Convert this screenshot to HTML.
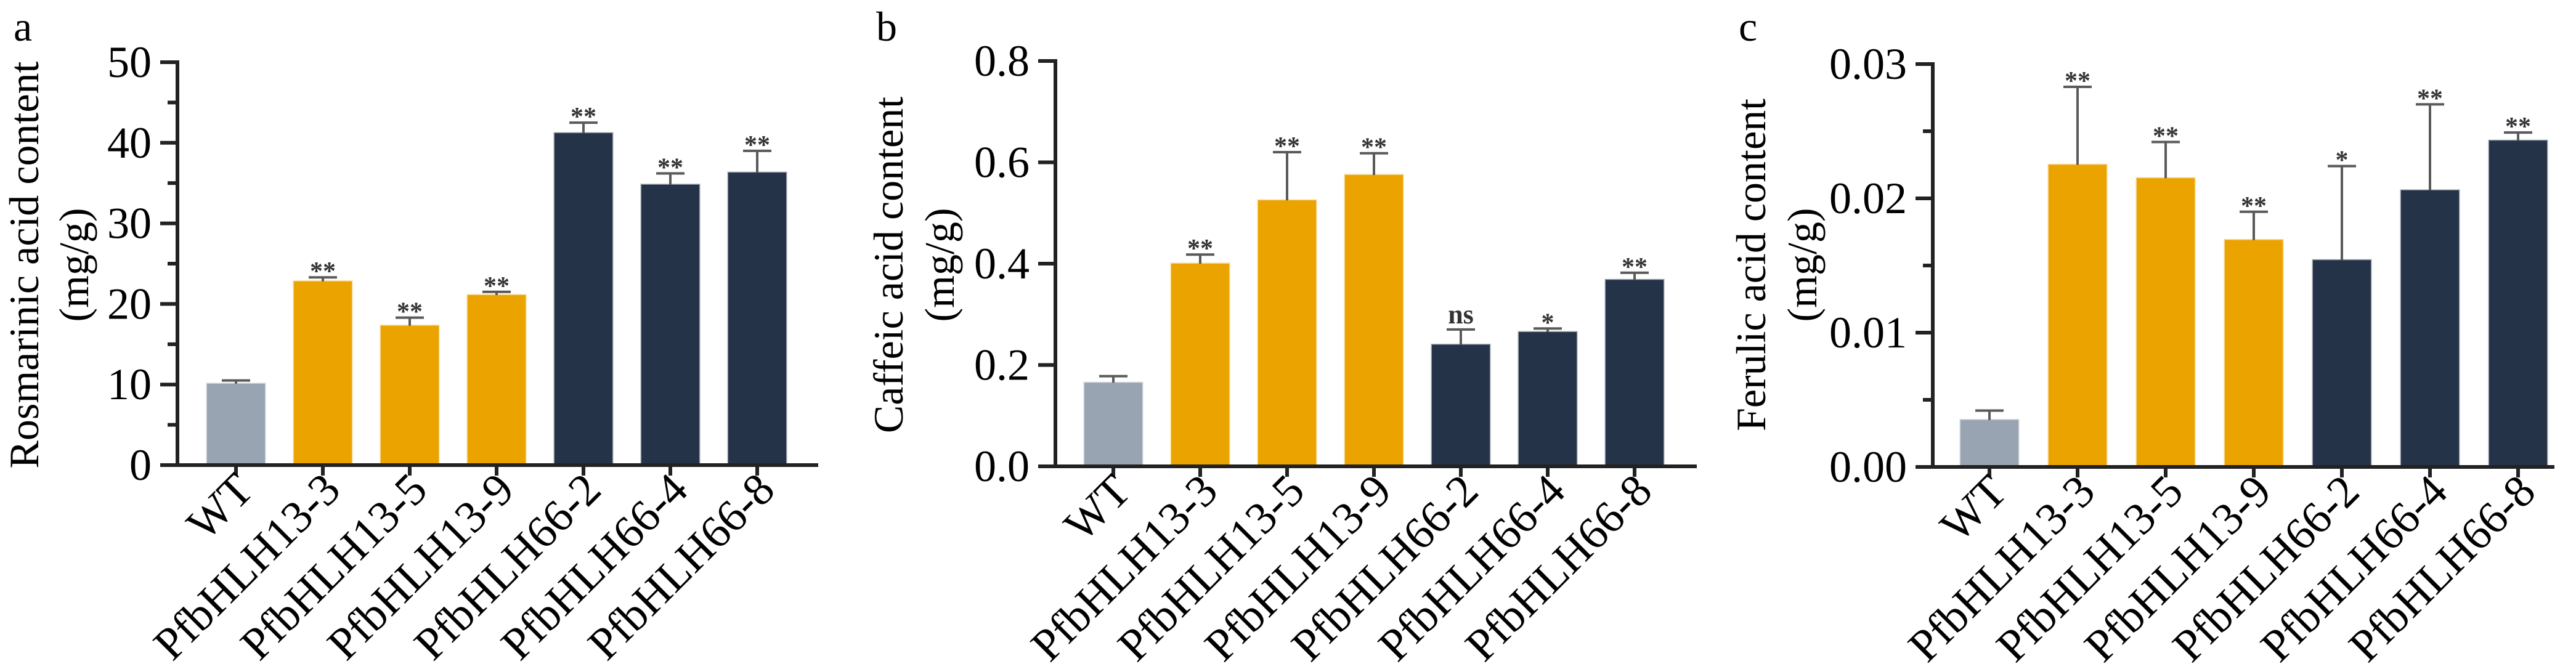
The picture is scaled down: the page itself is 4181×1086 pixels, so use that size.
<!DOCTYPE html>
<html><head><meta charset="utf-8"><style>
html,body{margin:0;padding:0;background:#fff;}
svg{display:block;font-family:"Liberation Serif","Times New Roman",serif;}
</style></head><body>
<svg id="fig" width="4181" height="1086" viewBox="0 0 4181 1086" xmlns="http://www.w3.org/2000/svg"></svg>
<script>
const categories = ["WT","PfbHLH13-3","PfbHLH13-5","PfbHLH13-9","PfbHLH66-2","PfbHLH66-4","PfbHLH66-8"];
const rosmarinicMeans = [10.1,22.8,17.3,21.1,41.2,34.8,36.3];
const rosmarinicErrTop = [10.5,23.3,18.3,21.5,42.5,36.2,39.0];
const rosmarinicSig = ["","**","**","**","**","**","**"];
const rosmarinicTicks = ["0","10","20","30","40","50"];
const caffeicMeans = [0.165,0.40,0.525,0.575,0.24,0.265,0.368];
const caffeicErrTop = [0.178,0.418,0.62,0.618,0.27,0.272,0.382];
const caffeicSig = ["","**","**","**","ns","*","**"];
const caffeicTicks = ["0.0","0.2","0.4","0.6","0.8"];
const ferulicMeans = [0.0035,0.0225,0.0215,0.0169,0.0154,0.0206,0.0243];
const ferulicErrTop = [0.0042,0.0283,0.0242,0.019,0.0224,0.027,0.0249];
const ferulicSig = ["","**","**","**","*","**","**"];
const ferulicTicks = ["0.00","0.01","0.02","0.03"];
const barColors = ["#98a4b2","#eba300","#eba300","#eba300","#243347","#243347","#243347"];

const NS="http://www.w3.org/2000/svg";
const svg=document.getElementById('fig');
function mk(tag,attrs,parent){const e=document.createElementNS(NS,tag);for(const k in attrs)e.setAttribute(k,attrs[k]);(parent||svg).appendChild(e);return e;}

function panel(cfg){
  const g=mk('g',{});
  
  
  const ticksNum=cfg.ticks.map(Number);
  const ymax=ticksNum[ticksNum.length-1];
  const y=v=>cfg.y0-(v/ymax)*(cfg.y0-cfg.y1);
  const x=i=>cfg.c0+i*cfg.step;
  const L=mk('text',{x:cfg.lx,y:66,'font-size':68,fill:'#000'},g);L.textContent=cfg.letter;
  
  
  const t1=mk('text',{x:0,y:0,'font-size':68,'text-anchor':'middle',transform:`translate(${cfg.tx1},430) rotate(-90)`,fill:'#000'},g);
  t1.textContent=cfg.title;
  
  
  const t2=mk('text',{x:0,y:0,'font-size':68,'text-anchor':'middle',transform:`translate(${cfg.tx2},430) rotate(-90)`,fill:'#000'},g);
  t2.textContent="(mg/g)";
  
  
  categories.forEach((c,i)=>{
    const yt=y(cfg.means[i]);
    const r=mk('rect',{x:x(i)-47,y:yt,width:94,height:cfg.y0-yt,fill:barColors[i],stroke:barColors[i],'stroke-opacity':0.45,'stroke-width':3},g);
    
    
    const ye=y(cfg.err[i]);
    const e=mk('path',{d:`M${x(i)},${yt} V${ye} M${x(i)-23},${ye} H${x(i)+23}`,stroke:'#5a5a5a','stroke-width':4,fill:'none'},g);
    
    
    if(cfg.sig[i]){
      const s=mk('text',{x:x(i),y:ye-(cfg.sig[i]==='ns'?10:-4),'font-size':cfg.sig[i]==='ns'?44:42,'font-weight':'bold','text-anchor':'middle',fill:'#333'},g);
      s.textContent=cfg.sig[i];
      
      
    }
    const tk=mk('line',{x1:x(i),y1:cfg.y0,x2:x(i),y2:cfg.y0+17,stroke:'#222','stroke-width':6},g);
    
    
    const lb=mk('text',{x:0,y:0,'font-size':74,'text-anchor':'end',transform:`translate(${x(i)+32},${cfg.y0+44}) rotate(-45)`,fill:'#000'},g);
    lb.textContent=c;
    
    
  });
  cfg.ticks.forEach((t,k)=>{
    const v=ticksNum[k];
    const tk=mk('line',{x1:cfg.ax-28,y1:y(v),x2:cfg.ax,y2:y(v),stroke:'#222','stroke-width':6},g);
    
    
    const tl=mk('text',{x:cfg.ax-42,y:y(v)+24,'font-size':72,'text-anchor':'end',fill:'#000'},g);
    tl.textContent=t;
    
    
    if(cfg.minor && k<ticksNum.length-1){
      const mv=(v+ticksNum[k+1])/2;
      const m=mk('line',{x1:cfg.ax-16,y1:y(mv),x2:cfg.ax,y2:y(mv),stroke:'#222','stroke-width':6},g);
      
      
    }
  });
  const ya=mk('line',{x1:cfg.ax,y1:cfg.y1-3,x2:cfg.ax,y2:cfg.y0+3,stroke:'#222','stroke-width':6},g);
  
  
  const xa=mk('line',{x1:cfg.xs,y1:cfg.y0,x2:cfg.xe,y2:cfg.y0,stroke:'#222','stroke-width':6},g);
  
  
}

panel({name:'panel-a-rosmarinic',letter:'a',lx:22,title:'Rosmarinic acid content',tx1:62,tx2:143,
  means:rosmarinicMeans,err:rosmarinicErrTop,sig:rosmarinicSig,ticks:rosmarinicTicks,minor:true,
  ax:288,xs:262,xe:1328,y0:755,y1:101,c0:383,step:141});
panel({name:'panel-b-caffeic',letter:'b',lx:1422,title:'Caffeic acid content',tx1:1465,tx2:1548,
  means:caffeicMeans,err:caffeicErrTop,sig:caffeicSig,ticks:caffeicTicks,minor:false,
  ax:1713,xs:1689,xe:2754,y0:757,y1:99,c0:1807,step:141});
panel({name:'panel-c-ferulic',letter:'c',lx:2822,title:'Ferulic acid content',tx1:2865,tx2:2948,
  means:ferulicMeans,err:ferulicErrTop,sig:ferulicSig,ticks:ferulicTicks,minor:true,
  ax:3137,xs:3116,xe:4146,y0:758,y1:104,c0:3229,step:143});
</script>
</body></html>
